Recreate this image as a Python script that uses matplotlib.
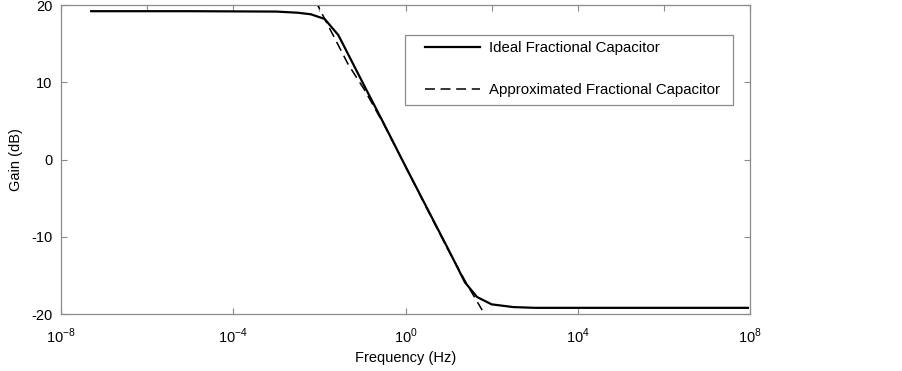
"""Gain of an ideal vs approximated fractional capacitor (log frequency axis)."""

import numpy as np
import matplotlib

matplotlib.use("Agg")
import matplotlib.pyplot as plt
from matplotlib.patches import Rectangle
from matplotlib.ticker import NullFormatter

plt.rcParams["font.family"] = ["Liberation Sans", "DejaVu Sans"]
plt.rcParams["mathtext.fontset"] = "custom"
plt.rcParams["mathtext.rm"] = "Liberation Sans"
plt.rcParams["axes.unicode_minus"] = False

# values: log10(frequency) and gain in dB
ideal_logf = [-7.3, -5, -3, -2.5, -2.2, -1.88, -1.56, -1.0, -0.5, 0.0,
              0.5, 1.0, 1.38, 1.66, 2.0, 2.5, 3.0, 5.0, 7.95]
ideal_gain = [19.2, 19.2, 19.15, 19.0, 18.8, 18.2, 16.1, 10.0, 4.6, -0.9,
              -6.3, -11.7, -15.9, -17.8, -18.75, -19.1, -19.2, -19.2, -19.2]

approx_logf = [-2.1, -1.33, -0.94, -0.5, 0.0, 0.5, 1.0, 1.43, 1.78]
approx_gain = [20.6, 12.3, 8.9, 4.5, -0.9, -6.4, -11.8, -16.2, -19.5]

x_ticks = [1e-8, 1e-4, 1e0, 1e4, 1e8]
x_tick_labels = ["10$^{-8}$", "10$^{-4}$", "10$^{0}$", "10$^{4}$", "10$^{8}$"]
y_ticks = [-20, -10, 0, 10, 20]

AXIS_GREY = "#8a8a8a"


def main():
    fig = plt.figure(figsize=(9.03, 3.71), dpi=100)
    ax = fig.add_axes([0.0676, 0.1536, 0.7630, 0.8329])

    ax.plot(10 ** np.array(ideal_logf), ideal_gain, color="black",
            lw=1.6, label="Ideal Fractional Capacitor", zorder=3)
    ax.plot(10 ** np.array(approx_logf), approx_gain, color="black",
            lw=1.1, dashes=(6.5, 3.7),
            label="Approximated Fractional Capacitor", zorder=2)

    ax.set_xscale("log")
    ax.set_xlim(1e-8, 1e8)
    ax.set_ylim(-20, 20)
    ax.set_xticks(x_ticks)
    ax.set_xticklabels(x_tick_labels)
    ax.set_xticks([1e-6, 1e-2, 1e2, 1e6], minor=True)
    ax.xaxis.set_minor_formatter(NullFormatter())
    ax.set_yticks(y_ticks)

    ax.tick_params(axis="both", which="major", direction="in", length=4,
                   width=0.8, color=AXIS_GREY, labelsize=10.5, top=True,
                   right=True, pad=6)
    ax.tick_params(axis="x", which="minor", direction="in", length=4,
                   width=0.8, color=AXIS_GREY, bottom=False, top=True)
    ax.tick_params(axis="x", which="major", pad=9)
    for spine in ax.spines.values():
        spine.set_color(AXIS_GREY)
        spine.set_linewidth(0.9)

    ax.set_xlabel("Frequency (Hz)", fontsize=10.5, labelpad=4)
    ax.set_ylabel("Gain (dB)", fontsize=10.5, labelpad=6)

    # legend box drawn separately so the entries sit inset like the original
    ax.add_patch(Rectangle((0.4993, 0.6764), 0.476, 0.2265,
                           transform=ax.transAxes, facecolor="white",
                           edgecolor=AXIS_GREY, lw=0.9, zorder=4))
    leg = ax.legend(loc="upper left", bbox_to_anchor=(0.528, 0.8835),
                    fontsize=10.8, frameon=False, handlelength=3.7,
                    handletextpad=0.55, labelspacing=1.88, borderpad=0,
                    borderaxespad=0)
    leg.set_zorder(5)

    fig.savefig("out.png", dpi=100)


if __name__ == "__main__":
    main()
